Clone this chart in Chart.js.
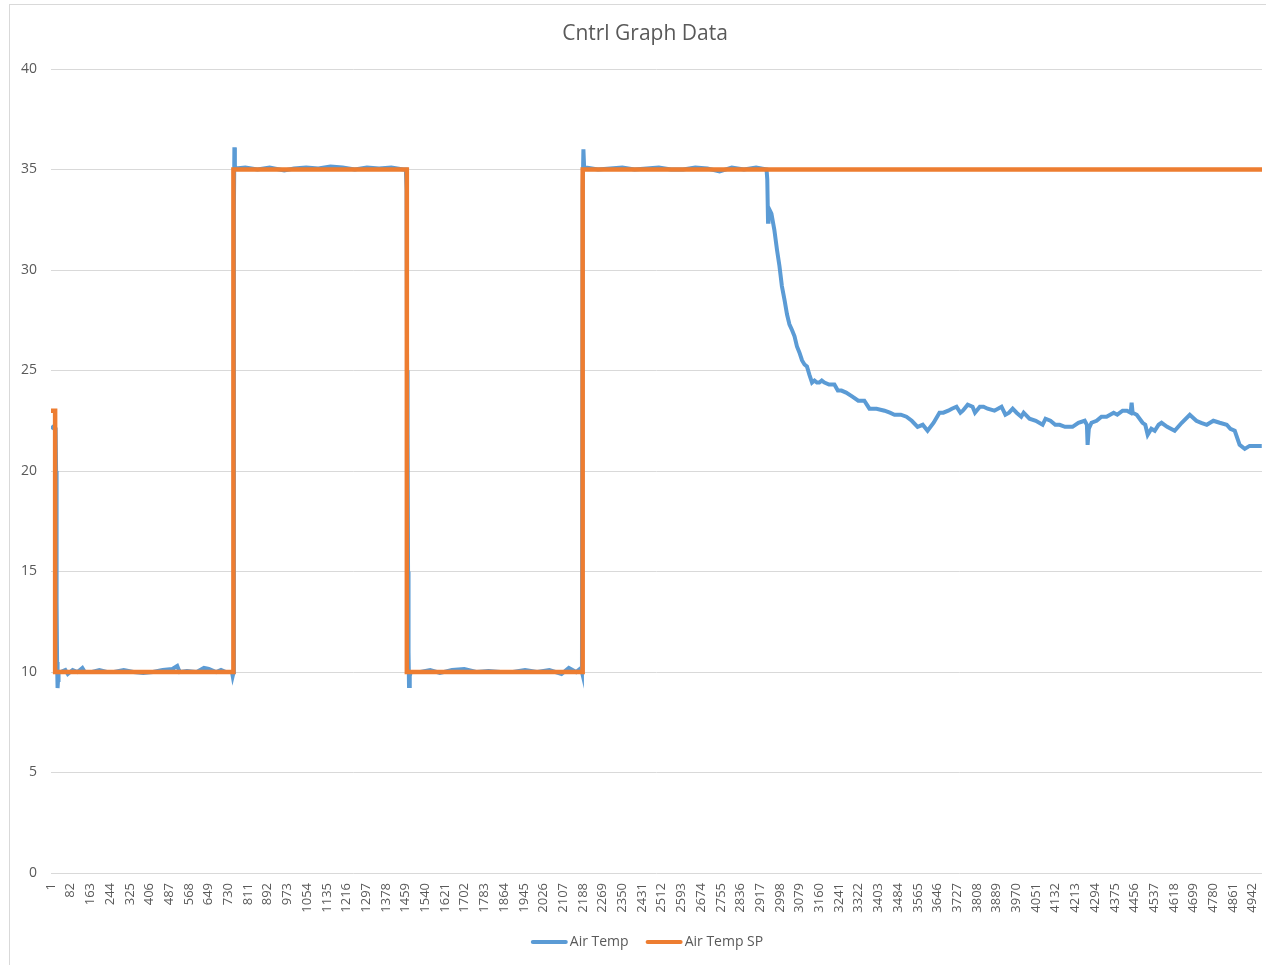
<!DOCTYPE html>
<html>
<head>
<meta charset="utf-8">
<script src="https://cdn.jsdelivr.net/npm/chart.js@4.4.1/dist/chart.umd.min.js"></script>
<style>
  html, body { margin: 0; padding: 0; background: #ffffff; }
  #wrap { width: 1266px; height: 965px; position: relative; }
</style>
</head>
<body>
<div id="wrap"><canvas id="c" width="1266" height="965"></canvas></div>
<script>
// ---- data ----
const chartTitle = 'Cntrl Graph Data';
const seriesNames = ['Air Temp', 'Air Temp SP'];

// category tick labels shown on the x axis (row numbers)
const xTickLabels = [1, 82, 163, 244, 325, 406, 487, 568, 649, 730, 811, 892, 973, 1054, 1135, 1216,
  1297, 1378, 1459, 1540, 1621, 1702, 1783, 1864, 1945, 2026, 2107, 2188, 2269, 2350, 2431, 2512,
  2593, 2674, 2755, 2836, 2917, 2998, 3079, 3160, 3241, 3322, 3403, 3484, 3565, 3646, 3727, 3808,
  3889, 3970, 4051, 4132, 4213, 4294, 4375, 4456, 4537, 4618, 4699, 4780, 4861, 4942];
const xLast = 4980;

const yTicks = [0, 5, 10, 15, 20, 25, 30, 35, 40];

// Air Temp: sample row numbers and readings
const airTempRow = [1, 10, 20, 22, 24, 26, 28, 30, 32, 40, 60, 70, 90, 110, 130, 140, 170, 200, 230, 260,
  300, 340, 380, 420, 460, 500, 520, 530, 560, 600, 630, 650, 680, 700, 720, 745, 748, 752, 753, 755, 757,
  760, 800, 850, 900, 960, 1000, 1050, 1100, 1150, 1200, 1250, 1300, 1350, 1400, 1450, 1460,
  1463, 1465, 1467, 1469, 1471, 1473, 1476, 1480, 1520, 1560, 1600, 1650, 1700, 1750, 1800, 1850, 1900,
  1950, 2000, 2050, 2100, 2130, 2160, 2180, 2184, 2187, 2190, 2193,
  2200, 2250, 2300, 2350, 2400, 2450, 2500, 2550, 2600, 2650, 2700, 2750, 2800, 2850, 2900, 2943,
  2946, 2949, 2951, 2955, 2963, 2975, 2986, 2996, 3006, 3017, 3027, 3037, 3048, 3058, 3068, 3078, 3089, 3099,
  3109, 3119, 3130, 3140, 3150, 3160, 3170, 3181, 3200, 3222, 3236,
  3251, 3270, 3296, 3320, 3345, 3366, 3395, 3428, 3450, 3469, 3495, 3518, 3540, 3564, 3585, 3605, 3630, 3654,
  3670, 3690, 3705, 3724, 3740, 3750, 3770, 3790, 3800, 3820, 3835, 3852, 3880, 3909, 3925, 3940, 3955, 3971,
  3990, 4000, 4024, 4050, 4078, 4090, 4110, 4130, 4148, 4170, 4201, 4225, 4251, 4260, 4263, 4268, 4279,
  4300, 4320, 4341, 4370, 4385, 4407, 4425, 4440, 4444, 4448, 4465, 4489,
  4500, 4510, 4525, 4539, 4555, 4567, 4590, 4621, 4650, 4683, 4710, 4730, 4753, 4780, 4806, 4835, 4850, 4868,
  4888, 4909, 4929, 4979];
const airTempVal = [22.1, 22.2, 22.1, 20.0, 13.5, 10.5, 9.2, 9.6, 10.0, 10.0, 10.1, 9.9, 10.1, 10.0, 10.2, 10.0, 10.0, 10.1, 10.0, 10.0,
  10.1, 10.0, 9.95, 10.0, 10.1, 10.15, 10.3, 10.0, 10.05, 10.0, 10.2, 10.15, 10.0, 10.1, 10.0, 10.0, 9.8, 10.0, 33.0, 36.1, 35.2,
  35.05, 35.1, 35.0, 35.1, 34.95, 35.05, 35.1, 35.05, 35.15, 35.1, 35.0, 35.1, 35.05, 35.1, 35.0, 35.0,
  34.0, 25.0, 22.0, 15.0, 11.0, 9.3, 9.8, 10.0, 10.0, 10.1, 9.95, 10.1, 10.15, 10.0, 10.05, 10.0, 10.0,
  10.1, 10.0, 10.1, 9.9, 10.2, 10.0, 10.2, 10.0, 34.0, 36.0, 35.1,
  35.1, 35.0, 35.05, 35.1, 35.0, 35.05, 35.1, 35.0, 35.0, 35.1, 35.05, 34.9, 35.1, 35.0, 35.1, 35.0,
  34.5, 32.4, 32.6, 33.0, 32.8, 32.0, 31.0, 30.2, 29.2, 28.5, 27.8, 27.3, 27.0, 26.7, 26.2, 25.9, 25.5, 25.3,
  25.2, 24.8, 24.4, 24.5, 24.4, 24.4, 24.5, 24.4, 24.3, 24.3, 24.0,
  24.0, 23.9, 23.7, 23.5, 23.5, 23.1, 23.1, 23.0, 22.9, 22.8, 22.8, 22.7, 22.5, 22.2, 22.3, 22.0, 22.4, 22.9,
  22.9, 23.0, 23.1, 23.2, 22.9, 23.0, 23.3, 23.2, 22.9, 23.2, 23.2, 23.1, 23.0, 23.2, 22.8, 22.9, 23.1, 22.9,
  22.7, 22.9, 22.6, 22.5, 22.3, 22.6, 22.5, 22.3, 22.3, 22.2, 22.2, 22.4, 22.5, 22.3, 21.3, 22.1, 22.4,
  22.5, 22.7, 22.7, 22.9, 22.8, 23.0, 23.0, 22.9, 23.4, 22.9, 22.8, 22.4,
  22.3, 21.8, 22.1, 22.0, 22.3, 22.4, 22.2, 22.0, 22.4, 22.8, 22.5, 22.4, 22.3, 22.5, 22.4, 22.3, 22.1, 22.0,
  21.3, 21.1, 21.25, 21.25];

// Air Temp SP: rows where the set point changes, and the new value
const spRow = [1, 18, 751, 1464, 2187, 4980];
const spVal = [23, 10, 35, 10, 35, 35];

// ---- chart ----
const TEXT = '#595959';
const GRID = '#d9d9d9';
const FONT = "'Open Sans', 'Noto Sans', sans-serif";

const frame = {
  id: 'frame',
  beforeDraw(chart) {
    const ctx = chart.ctx;
    ctx.save();
    ctx.fillStyle = '#ffffff';
    ctx.fillRect(0, 0, chart.width, chart.height);
    ctx.strokeStyle = GRID;
    ctx.lineWidth = 1;
    ctx.strokeRect(9.5, 4.5, chart.width + 10, chart.height + 10);
    ctx.restore();
  }
};

// title and legend, placed as in the reference (centred on the outer frame)
const headerFooter = {
  id: 'headerFooter',
  afterDraw(chart) {
    const ctx = chart.ctx;
    ctx.save();
    ctx.fillStyle = TEXT;
    ctx.textBaseline = 'middle';
    ctx.textAlign = 'center';
    ctx.font = "21px " + FONT;
    ctx.fillText(chartTitle, 645, 34);

    ctx.font = "14px " + FONT;
    ctx.textAlign = 'left';
    const lineW = 37, gapText = 2, gapItem = 17, y = 942;
    const ds = chart.data.datasets;
    const widths = ds.map(d => lineW + gapText + ctx.measureText(d.label).width);
    const total = widths.reduce((a, b) => a + b, 0) + gapItem * (ds.length - 1);
    let x = 647 - total / 2;
    ds.forEach((d, i) => {
      ctx.strokeStyle = d.borderColor;
      ctx.lineWidth = 4;
      ctx.lineCap = 'round';
      ctx.beginPath();
      ctx.moveTo(x + 2, y);
      ctx.lineTo(x + lineW - 2, y);
      ctx.stroke();
      ctx.fillStyle = TEXT;
      ctx.fillText(d.label, x + lineW + gapText, y);
      x += widths[i] + gapItem;
    });
    ctx.restore();
  }
};

new Chart(document.getElementById('c'), {
  type: 'line',
  data: {
    datasets: [
      {
        label: seriesNames[0],
        data: airTempRow.map((r, i) => ({ x: r, y: airTempVal[i] })),
        borderColor: '#5b9bd5',
        backgroundColor: '#5b9bd5',
        borderWidth: 4,
        pointRadius: 0,
        tension: 0,
        order: 1
      },
      {
        label: seriesNames[1],
        data: spRow.map((r, i) => ({ x: r, y: spVal[i] })),
        borderColor: '#ed7d31',
        backgroundColor: '#ed7d31',
        borderWidth: 4.5,
        pointRadius: 0,
        stepped: 'before',
        order: 0
      }
    ]
  },
  options: {
    responsive: false,
    animation: false,
    layout: { padding: { left: 0, right: 4, top: 69, bottom: 40 } },
    plugins: {
      title: { display: false },
      legend: { display: false },
      tooltip: { enabled: false }
    },
    scales: {
      x: {
        type: 'linear',
        min: 1,
        max: xLast,
        grid: { display: false, drawTicks: false },
        border: { display: false },
        afterBuildTicks(scale) { scale.ticks = xTickLabels.map(v => ({ value: v })); },
        afterFit(scale) { scale.height = 52; scale.paddingLeft = 0; scale.paddingRight = 0; },
        ticks: {
          autoSkip: false,
          minRotation: 90,
          maxRotation: 90,
          padding: 10,
          color: TEXT,
          font: { family: FONT, size: 13 },
          callback: v => String(v)
        }
      },
      y: {
        min: 0,
        max: 40,
        afterBuildTicks(scale) { scale.ticks = yTicks.map(v => ({ value: v })); },
        afterFit(scale) { scale.width = 51; scale.paddingTop = 0; scale.paddingBottom = 0; },
        grid: { color: GRID, lineWidth: 1, drawTicks: false },
        border: { display: false },
        ticks: {
          padding: 14,
          color: TEXT,
          font: { family: FONT, size: 14 }
        }
      }
    }
  },
  plugins: [frame, headerFooter]
});
</script>
</body>
</html>
